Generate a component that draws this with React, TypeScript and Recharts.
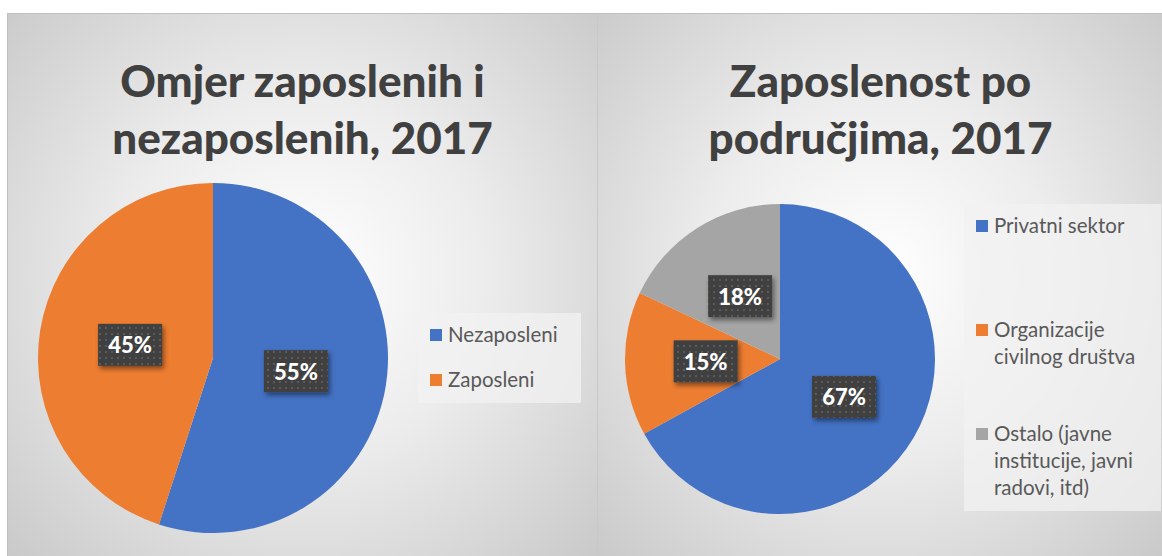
import { PieChart, Pie, Cell, Legend } from "recharts";

const leftNames = ["Nezaposleni", "Zaposleni"];
const leftValues = [55, 45];
const leftColors = ["#4472C4", "#ED7D31"];

const rightNames = ["Privatni sektor", "Organizacije civilnog društva", "Ostalo (javne institucije, javni radovi, itd)"];
const rightValues = [67, 15, 18];
const rightColors = ["#4472C4", "#ED7D31", "#A5A5A5"];

const leftData = leftNames.map((name, i) => ({ name, value: leftValues[i] }));
const rightData = rightNames.map((name, i) => ({ name, value: rightValues[i] }));

const FONT = "Lato, 'Open Sans', sans-serif";
const RAD = Math.PI / 180;

function makeLabel(id: string) {
  return (props: any) => {
    const { cx, cy, midAngle, outerRadius, value } = props;
    const r = outerRadius * 0.48;
    const x = cx + r * Math.cos(-midAngle * RAD);
    const y = cy + r * Math.sin(-midAngle * RAD);
    const w = 64;
    const h = 42;
    return (
      <g>
        <rect x={x - w / 2} y={y - h / 2} width={w} height={h} fill="#404040" filter={`url(#shadow-${id})`} />
        <rect x={x - w / 2} y={y - h / 2} width={w} height={h} fill={`url(#dots-${id})`} />
        <text x={x} y={y} textAnchor="middle" dominantBaseline="central" fill="#fff" fontFamily={FONT} fontWeight={900} fontSize={22}>
          {value}%
        </text>
      </g>
    );
  };
}

function Defs({ id }: { id: string }) {
  return (
    <defs>
      <pattern id={`dots-${id}`} width="6" height="6" patternUnits="userSpaceOnUse">
        <rect x="1" y="1" width="2" height="2" fill="#5a5a5a" />
      </pattern>
      <filter id={`shadow-${id}`} x="-20%" y="-20%" width="150%" height="160%">
        <feDropShadow dx="2" dy="3" stdDeviation="2.5" floodColor="#000" floodOpacity="0.45" />
      </filter>
    </defs>
  );
}

// each legend entry gets the same slot height, text sits at the top of its slot
function LegendBox({ items, colors, slot, width }: { items: string[]; colors: string[]; slot: number; width: number }) {
  return (
    <div style={{ background: "rgba(242,242,242,0.75)", width, padding: "8px 0 10px 12px", boxSizing: "border-box", fontFamily: FONT, fontSize: 20.5, color: "#595959", lineHeight: "27px" }}>
      {items.map((t, i) => (
        <div key={t} style={{ display: "flex", alignItems: "flex-start", height: i === items.length - 1 ? "auto" : slot }}>
          <span style={{ width: 12, height: 12, background: colors[i], marginTop: 8, marginRight: 6, flex: "none" }} />
          <span>{t}</span>
        </div>
      ))}
    </div>
  );
}

const panelBg = "radial-gradient(ellipse 70% 75% at 50% 48%, #ffffff 0%, #ececec 45%, #c9c9c9 100%)";

const titleStyle: React.CSSProperties = {
  position: "absolute",
  top: 38,
  left: 0,
  textAlign: "center",
  fontFamily: FONT,
  fontWeight: 900,
  fontSize: 44,
  lineHeight: "57px",
  color: "#404040",
};

export default function App() {
  return (
    <div style={{ position: "absolute", left: 0, top: 0, width: 1162, height: 556, background: "#fff", overflow: "hidden" }}>
      <div style={{ position: "absolute", left: 7, top: 13, width: 589, height: 543, background: panelBg, borderTop: "1px solid #c0c0c0", borderLeft: "1px solid #c0c0c0" }}>
        <div style={{ ...titleStyle, width: 589 }}>
          Omjer zaposlenih i<br />nezaposlenih, 2017
        </div>
        <div style={{ position: "absolute", left: 0, top: 0 }}>
          <PieChart width={589} height={543}>
            <Defs id="l" />
            <Pie data={leftData} dataKey="value" nameKey="name" cx={200} cy={339} outerRadius={175} startAngle={90} endAngle={-270} stroke="none" labelLine={false} label={makeLabel("l")} isAnimationActive={false}>
              {leftData.map((d, i) => (
                <Cell key={d.name} fill={leftColors[i]} />
              ))}
            </Pie>
            <Legend
              content={() => <LegendBox items={leftNames} colors={leftColors} slot={45} width={163} />}
              wrapperStyle={{ position: "absolute", left: 410, top: 299, width: 163 }}
            />
          </PieChart>
        </div>
      </div>
      <div style={{ position: "absolute", left: 597, top: 13, width: 565, height: 543, background: panelBg, borderTop: "1px solid #c0c0c0", borderLeft: "1px solid #c8c8c8" }}>
        <div style={{ ...titleStyle, width: 565 }}>
          Zaposlenost po<br />područjima, 2017
        </div>
        <div style={{ position: "absolute", left: 0, top: 0 }}>
          <PieChart width={565} height={543}>
            <Defs id="r" />
            <Pie data={rightData} dataKey="value" nameKey="name" cx={177} cy={340} outerRadius={155} startAngle={90} endAngle={-270} stroke="none" labelLine={false} label={makeLabel("r")} isAnimationActive={false}>
              {rightData.map((d, i) => (
                <Cell key={d.name} fill={rightColors[i]} />
              ))}
            </Pie>
            <Legend
              content={() => <LegendBox items={rightNames} colors={rightColors} slot={104} width={197} />}
              wrapperStyle={{ position: "absolute", left: 366, top: 190, width: 197 }}
            />
          </PieChart>
        </div>
      </div>
    </div>
  );
}
